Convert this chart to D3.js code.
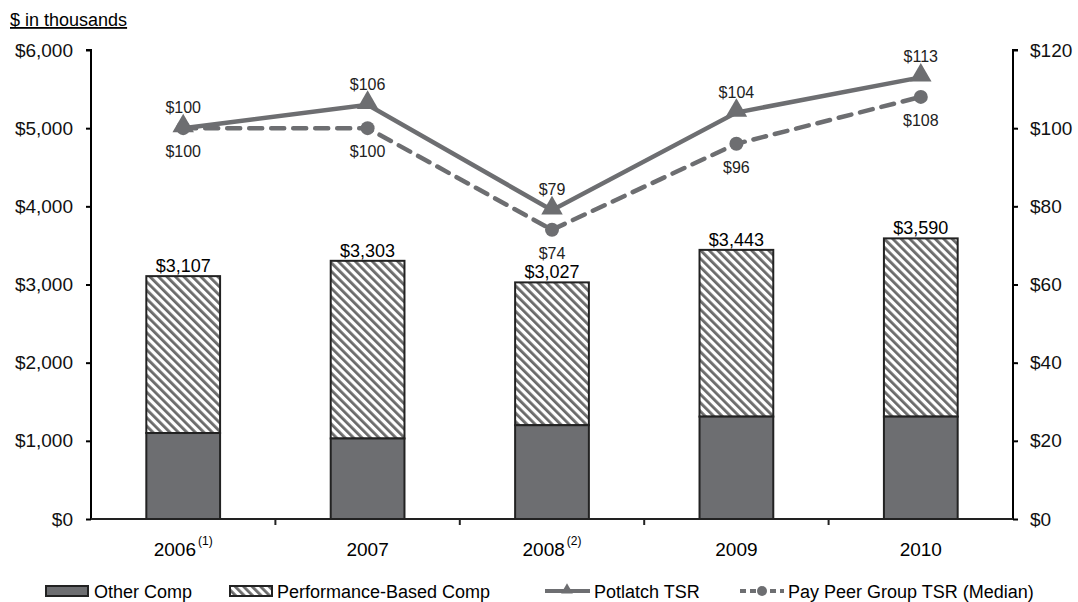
<!DOCTYPE html>
<html>
<head>
<meta charset="utf-8">
<script src="https://cdn.jsdelivr.net/npm/d3@7"></script>
<style>
  body { margin: 0; background: #fff; }
  text { font-family: "Liberation Sans", Arial, sans-serif; }
</style>
</head>
<body>
<div id="chart"></div>
<script>
var years = ["2006", "2007", "2008", "2009", "2010"];
var notes = ["(1)", "", "(2)", "", ""];
var otherComp = [1100, 1030, 1200, 1310, 1310];
var totalComp = [3107, 3303, 3027, 3443, 3590];
var potlatchTSR = [100, 106, 79, 104, 113];
var peerTSR = [100, 100, 74, 96, 108];
var leftTicks = [0, 1000, 2000, 3000, 4000, 5000, 6000];
var rightTicks = [0, 20, 40, 60, 80, 100, 120];

var grey = "#6d6e71";
var margin = {top: 50, right: 65, bottom: 83, left: 91},
    width = 1078 - margin.left - margin.right,
    height = 602 - margin.top - margin.bottom;

var svg = d3.select("#chart")
  .append("svg")
    .attr("width", 1078)
    .attr("height", 602);

// hatch pattern for performance based comp
var defs = svg.append("defs");
var pat = defs.append("pattern")
    .attr("id", "hatch")
    .attr("patternUnits", "userSpaceOnUse")
    .attr("width", 6).attr("height", 6)
    .attr("patternTransform", "rotate(-45)");
pat.append("rect").attr("width", 6).attr("height", 6).attr("fill", "#fff");
pat.append("rect").attr("x", 0).attr("width", 2.8).attr("height", 6).attr("fill", "#6a6a6a");

var g = svg.append("g")
    .attr("transform", "translate(" + margin.left + "," + margin.top + ")");

var x = d3.scaleBand().domain(years).range([0, width]).paddingInner(0.6).paddingOuter(0.3);
var xb = d3.scaleBand().domain(years).range([0, width]);
var y = d3.scaleLinear().domain([0, 6000]).range([height, 0]);
var y2 = d3.scaleLinear().domain([0, 120]).range([height, 0]);

// title
svg.append("text")
  .attr("x", 10).attr("y", 26)
  .style("font-size", "18px")
  .style("text-decoration", "underline")
  .text("$ in thousands");

// left axis
var yAxis = g.append("g")
  .call(d3.axisLeft(y).tickValues(leftTicks).tickSize(5).tickPadding(13)
    .tickFormat(function(d) { return "$" + d3.format(",")(d); }));
yAxis.select(".domain").attr("stroke-width", 2).attr("d", "M-5,0H0V" + height);
yAxis.selectAll("text").style("font-size", "19px").attr("fill", "#111");
yAxis.selectAll("line").attr("stroke-width", 2);

// right axis
var yAxis2 = g.append("g")
  .attr("transform", "translate(" + width + ",0)")
  .call(d3.axisRight(y2).tickValues(rightTicks).tickSize(5).tickPadding(12)
    .tickFormat(function(d) { return "$" + d; }));
yAxis2.select(".domain").attr("stroke-width", 2).attr("d", "M5,0H0V" + height);
yAxis2.selectAll("text").style("font-size", "19px").attr("fill", "#111");
yAxis2.selectAll("line").attr("stroke-width", 2);

// bars
var bars = g.append("g").selectAll("g.bar")
  .data(years)
  .enter().append("g").attr("class", "bar");

bars.append("rect")
  .attr("x", function(d) { return x(d); })
  .attr("width", x.bandwidth())
  .attr("y", function(d, i) { return y(totalComp[i]); })
  .attr("height", function(d, i) { return y(otherComp[i]) - y(totalComp[i]); })
  .attr("fill", "url(#hatch)")
  .attr("stroke", "#222").attr("stroke-width", 2);

bars.append("rect")
  .attr("x", function(d) { return x(d); })
  .attr("width", x.bandwidth())
  .attr("y", function(d, i) { return y(otherComp[i]); })
  .attr("height", function(d, i) { return y(0) - y(otherComp[i]); })
  .attr("fill", grey)
  .attr("stroke", "#222").attr("stroke-width", 2);

bars.append("text")
  .attr("x", function(d) { return x(d) + x.bandwidth() / 2; })
  .attr("y", function(d, i) { return y(totalComp[i]) - 4; })
  .attr("text-anchor", "middle")
  .style("font-size", "18px")
  .text(function(d, i) { return "$" + d3.format(",")(totalComp[i]); });

// x axis
var xAxis = g.append("g")
  .attr("transform", "translate(0," + height + ")");
xAxis.append("line")
  .attr("x1", 0).attr("x2", width)
  .attr("stroke", "#222").attr("stroke-width", 2);
xAxis.selectAll("line.tick")
  .data(years.slice(1))
  .enter().append("line").attr("class", "tick")
  .attr("x1", function(d) { return xb(d); })
  .attr("x2", function(d) { return xb(d); })
  .attr("y1", 0).attr("y2", 6)
  .attr("stroke", "#222").attr("stroke-width", 2);
var xl = xAxis.selectAll("text.yr")
  .data(years)
  .enter().append("text").attr("class", "yr")
  .attr("x", function(d) { return xb(d) + xb.bandwidth() / 2; })
  .attr("y", 37)
  .attr("text-anchor", "middle")
  .style("font-size", "19px")
  .text(function(d) { return d; });
xl.append("tspan")
  .attr("dy", -11).attr("dx", 2)
  .style("font-size", "12px")
  .text(function(d, i) { return notes[i]; });

// lines
var cx = function(d, i) { return xb(years[i]) + xb.bandwidth() / 2; };
var line = d3.line().x(cx).y(function(d) { return y2(d); });

g.append("path")
  .datum(peerTSR)
  .attr("d", line)
  .attr("fill", "none")
  .attr("stroke", grey).attr("stroke-width", 4.5)
  .attr("stroke-dasharray", "13,9")
  .attr("stroke-linecap", "round");

g.append("path")
  .datum(potlatchTSR)
  .attr("d", line)
  .attr("fill", "none")
  .attr("stroke", grey).attr("stroke-width", 4.5);

var tri = d3.symbol().type(d3.symbolTriangle).size(200);
g.selectAll("path.tri")
  .data(potlatchTSR)
  .enter().append("path").attr("class", "tri")
  .attr("d", tri)
  .attr("transform", function(d, i) { return "translate(" + cx(d, i) + "," + (y2(d) - 2) + ")"; })
  .attr("fill", grey);

g.selectAll("circle.peer")
  .data(peerTSR)
  .enter().append("circle").attr("class", "peer")
  .attr("cx", cx)
  .attr("cy", function(d) { return y2(d); })
  .attr("r", 7)
  .attr("fill", grey);

g.selectAll("text.pot")
  .data(potlatchTSR)
  .enter().append("text").attr("class", "pot")
  .attr("x", cx)
  .attr("y", function(d) { return y2(d) - 15; })
  .attr("text-anchor", "middle")
  .style("font-size", "16px").attr("fill", "#222")
  .text(function(d) { return "$" + d; });

g.selectAll("text.peerlab")
  .data(peerTSR)
  .enter().append("text").attr("class", "peerlab")
  .attr("x", cx)
  .attr("y", function(d) { return y2(d) + 29; })
  .attr("text-anchor", "middle")
  .style("font-size", "16px").attr("fill", "#222")
  .text(function(d) { return "$" + d; });

// legend
var leg = svg.append("g").attr("transform", "translate(0,591)");
leg.append("rect").attr("x", 46).attr("y", -5).attr("width", 42).attr("height", 10)
  .attr("fill", grey).attr("stroke", "#222").attr("stroke-width", 2);
leg.append("text").attr("x", 94).attr("y", 7).style("font-size", "18px").text("Other Comp");
leg.append("rect").attr("x", 230).attr("y", -5).attr("width", 42).attr("height", 10)
  .attr("fill", "url(#hatch)").attr("stroke", "#222").attr("stroke-width", 2);
leg.append("text").attr("x", 277).attr("y", 7).style("font-size", "18px").text("Performance-Based Comp");
leg.append("line").attr("x1", 545).attr("x2", 590).attr("y1", 0).attr("y2", 0)
  .attr("stroke", grey).attr("stroke-width", 4);
leg.append("path").attr("d", d3.symbol().type(d3.symbolTriangle).size(60))
  .attr("transform", "translate(567,-1)").attr("fill", grey);
leg.append("text").attr("x", 594).attr("y", 7).style("font-size", "18px").text("Potlatch TSR");
leg.append("line").attr("x1", 740).attr("x2", 784).attr("y1", 0).attr("y2", 0)
  .attr("stroke", grey).attr("stroke-width", 4).attr("stroke-dasharray", "6,4");
leg.append("circle").attr("cx", 762).attr("cy", 0).attr("r", 5).attr("fill", grey);
leg.append("text").attr("x", 788).attr("y", 7).style("font-size", "18px").text("Pay Peer Group TSR (Median)");
</script>
</body>
</html>
